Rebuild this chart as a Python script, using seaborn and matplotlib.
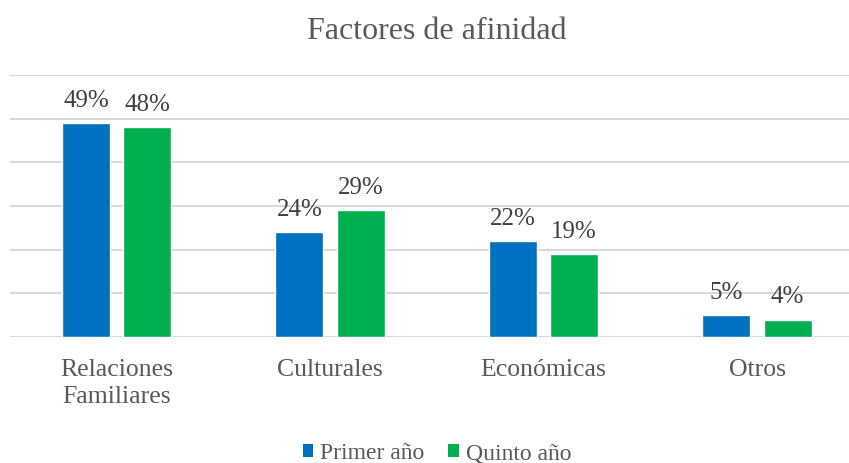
import matplotlib
matplotlib.use("Agg")
import matplotlib.pyplot as plt
import seaborn as sns
import pandas as pd
from matplotlib.patches import Patch

categories = ["Relaciones\nFamiliares", "Culturales", "Económicas", "Otros"]
primer = [49, 24, 22, 5]
quinto = [48, 29, 19, 4]
series_names = ["Primer año", "Quinto año"]
colors = ["#0070C0", "#00B050"]

df = pd.DataFrame({
    "cat": categories * 2,
    "val": primer + quinto,
    "serie": [series_names[0]] * 4 + [series_names[1]] * 4,
})

sns.set_theme(style="white")
plt.rcParams["font.family"] = ["Liberation Serif", "DejaVu Serif"]

W, H = 849, 463
fig = plt.figure(figsize=(W / 100, H / 100), dpi=100)
ax = fig.add_axes([9.75 / W, (H - 337) / H, 854 / W, (337 - 75) / H])

sns.barplot(data=df, x="cat", y="val", hue="serie", palette=colors,
            width=0.572, gap=0.213, ax=ax, legend=False, saturation=1,
            order=categories, hue_order=series_names)

ax.set_xlim(-0.5, 3.5)
ax.set_ylim(0, 60)
ax.set_yticks(range(0, 61, 10))
ax.yaxis.grid(True, color="#D9D9D9", linewidth=1.5)
ax.set_axisbelow(True)
for s in ax.spines.values():
    s.set_visible(False)
ax.tick_params(axis="y", left=False, labelleft=False)
ax.tick_params(axis="x", length=0, pad=16, labelsize=18.5, labelcolor="#595959")
for lbl in ax.get_xticklabels():
    lbl.set_linespacing(1.3)
ax.set_xlabel("")
ax.set_ylabel("")

for cont in ax.containers:
    ax.bar_label(cont, labels=[f"{int(v)}%" for v in cont.datavalues],
                 padding=8, fontsize=18, color="#404040")

ax.set_title("Factores de afinidad", fontsize=23, color="#595959", pad=26)

handles = [Patch(facecolor=c, edgecolor="none", label=n) for c, n in zip(colors, series_names)]
fig.legend(handles=handles, loc="center", bbox_to_anchor=(437 / W, 0.02),
           ncol=2, frameon=False, fontsize=17, labelcolor="#595959",
           handlelength=0.45, handleheight=0.45, handletextpad=0.3,
           columnspacing=1.0, borderpad=0)

fig.savefig("out.png", dpi=100)
